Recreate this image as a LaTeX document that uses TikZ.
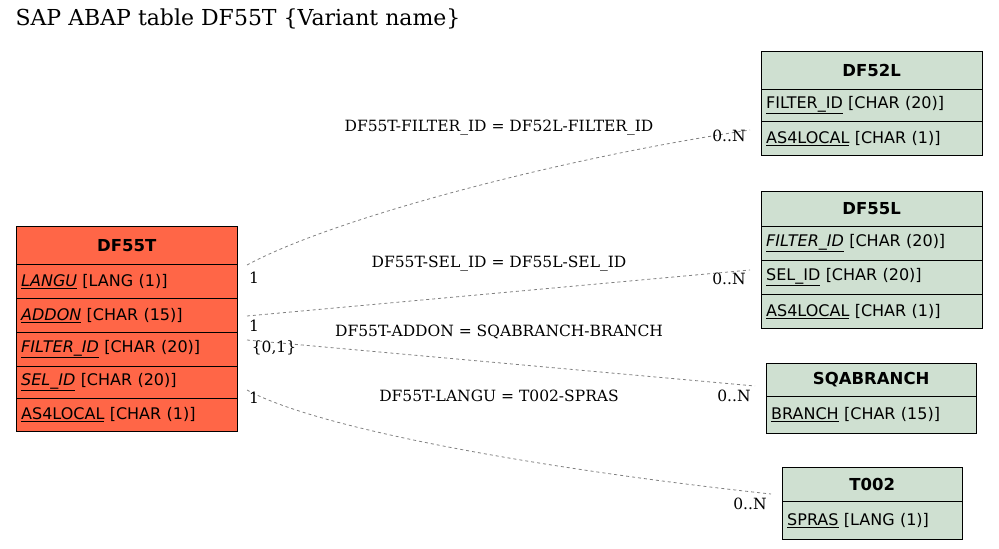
\documentclass[tikz,border=0pt]{standalone}
\usepackage{fontspec}
\setmainfont{DejaVu Serif}
\setsansfont{DejaVu Sans}
\usetikzlibrary{positioning}
\tikzset{
  hdr/.style={draw, fill=#1, anchor=north west, inner sep=0pt, font=\sffamily\bfseries\fontsize{16.5}{18}\selectfont},
  fld/.style={draw, fill=#1, anchor=north west, inner ysep=0pt, inner xsep=5pt, align=left, font=\sffamily\fontsize{16}{18}\selectfont},
  rel/.style={draw=gray, dashed, line width=0.8pt},
  lbl/.style={font=\fontsize{15.5}{18}\selectfont, inner sep=1pt}
}
\definecolor{mainc}{RGB}{255,102,71}
\definecolor{refc}{RGB}{207,224,209}
\begin{document}
\begin{tikzpicture}[x=1pt,y=-1pt]
\useasboundingbox (0,0) rectangle (999,549);
\node[anchor=north west, font=\fontsize{22}{26}\selectfont] (title) at (12,5) {SAP ABAP table DF55T \{Variant name\}};

% DF55T
\node[hdr=mainc, minimum width=221pt, minimum height=38pt] (t) at (16,226) {DF55T};
\node[fld=mainc, minimum width=221pt, minimum height=34pt, text width=211pt] (t1) at (16,264) {\underline{\textit{LANGU}} [LANG (1)]};
\node[fld=mainc, minimum width=221pt, minimum height=34pt, text width=211pt] (t2) at (16,298) {\underline{\textit{ADDON}} [CHAR (15)]};
\node[fld=mainc, minimum width=221pt, minimum height=34pt, text width=211pt] (t3) at (16,332) {\underline{\textit{FILTER\_ID}} [CHAR (20)]};
\node[fld=mainc, minimum width=221pt, minimum height=32pt, text width=211pt] (t4) at (16,366) {\underline{\textit{SEL\_ID}} [CHAR (20)]};
\node[fld=mainc, minimum width=221pt, minimum height=33pt, text width=211pt] (t5) at (16,398) {\underline{AS4LOCAL} [CHAR (1)]};

% DF52L
\node[hdr=refc, minimum width=221pt, minimum height=38pt] (a) at (761,51) {DF52L};
\node[fld=refc, minimum width=221pt, minimum height=32pt, text width=211pt] (a1) at (761,89) {\underline{FILTER\_ID} [CHAR (20)]};
\node[fld=refc, minimum width=221pt, minimum height=34pt, text width=211pt] (a2) at (761,121) {\underline{AS4LOCAL} [CHAR (1)]};

% DF55L
\node[hdr=refc, minimum width=221pt, minimum height=35pt] (b) at (761,191) {DF55L};
\node[fld=refc, minimum width=221pt, minimum height=34pt, text width=211pt] (b1) at (761,226) {\underline{\textit{FILTER\_ID}} [CHAR (20)]};
\node[fld=refc, minimum width=221pt, minimum height=34pt, text width=211pt] (b2) at (761,260) {\underline{SEL\_ID} [CHAR (20)]};
\node[fld=refc, minimum width=221pt, minimum height=34pt, text width=211pt] (b3) at (761,294) {\underline{AS4LOCAL} [CHAR (1)]};

% SQABRANCH
\node[hdr=refc, minimum width=210pt, minimum height=33pt] (c) at (766,363) {SQABRANCH};
\node[fld=refc, minimum width=210pt, minimum height=37pt, text width=200pt] (c1) at (766,396) {\underline{BRANCH} [CHAR (15)]};

% T002
\node[hdr=refc, minimum width=180pt, minimum height=34pt] (d) at (782,467) {T002};
\node[fld=refc, minimum width=180pt, minimum height=38pt, text width=170pt] (d1) at (782,501) {\underline{SPRAS} [LANG (1)]};

% relations
\coordinate (s1) at (247,265); \coordinate (e1) at (750,130);
\coordinate (s2) at (247,316); \coordinate (e2) at (750,270);
\coordinate (s3) at (247,340); \coordinate (e3) at (755,386);
\coordinate (s4) at (247,390); \coordinate (e4) at (771,494);
\draw[rel] (s1) .. controls (330,220) and (550,160) .. (e1);
\draw[rel] (s2) -- (e2);
\draw[rel] (s3) -- (e3);
\draw[rel] (s4) .. controls (320,430) and (550,470) .. (e4);

\node[lbl] (l1) at (499,128) {DF55T-FILTER\_ID = DF52L-FILTER\_ID};
\node[lbl] (l2) at (499,264) {DF55T-SEL\_ID = DF55L-SEL\_ID};
\node[lbl] (l3) at (499,332) {DF55T-ADDON = SQABRANCH-BRANCH};
\node[lbl] (l4) at (499,396) {DF55T-LANGU = T002-SPRAS};
\node[lbl] (m1) at (254,278) {1};
\node[lbl] (n1) at (729,136) {0..N};
\node[lbl] (m2) at (254,326) {1};
\node[lbl] (n2) at (729,279) {0..N};
\node[lbl] (m3) at (274,348) {\{0,1\}};
\node[lbl] (n3) at (734,396) {0..N};
\node[lbl] (m4) at (254,398) {1};
\node[lbl] (n4) at (750,504) {0..N};
\end{tikzpicture}
\end{document}
